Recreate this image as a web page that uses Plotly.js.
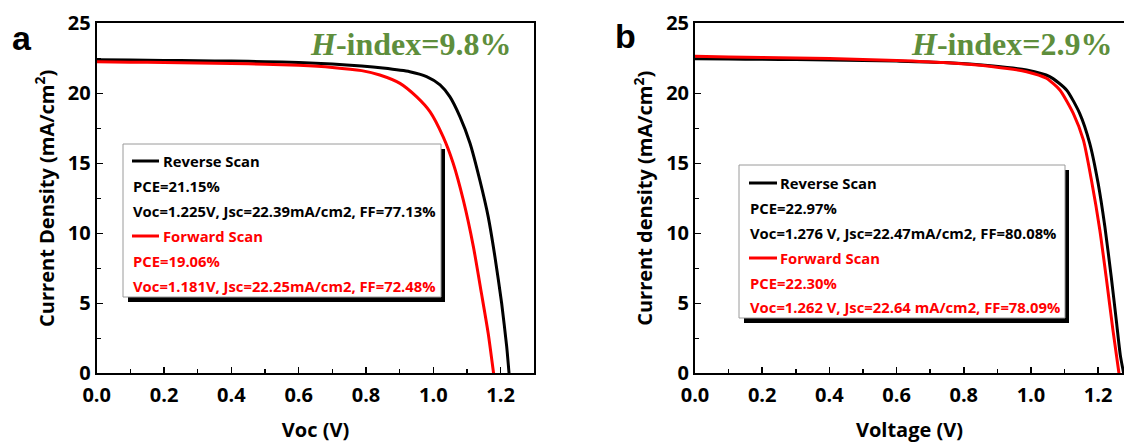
<!DOCTYPE html>
<html>
<head>
<meta charset="utf-8">
<script src="https://cdn.plot.ly/plotly-3.0.1.min.js"></script>
<style>
html,body{margin:0;padding:0;overflow:hidden;background:#fff;}
#chart{width:1124px;height:443px;}
</style>
</head>
<body>
<div id="chart"></div>
<script>
// ---------- data ----------
// Panel a
const aReverseV = [0, 0.1, 0.2, 0.3, 0.4, 0.5, 0.6, 0.7, 0.787, 0.85, 0.93, 0.98, 1.02, 1.049, 1.079, 1.109, 1.138, 1.163, 1.183, 1.203, 1.218, 1.225];
const aReverseJ = [22.39, 22.37, 22.35, 22.32, 22.3, 22.26, 22.2, 22.1, 21.95, 21.8, 21.54, 21.19, 20.6, 19.76, 18.33, 16.43, 13.81, 11.19, 8.33, 5.0, 1.9, 0];
const aForwardV = [0, 0.1, 0.2, 0.3, 0.4, 0.5, 0.6, 0.7, 0.787, 0.841, 0.901, 0.95, 0.99, 1.029, 1.059, 1.089, 1.119, 1.143, 1.163, 1.179];
const aForwardJ = [22.25, 22.22, 22.2, 22.17, 22.13, 22.08, 22.0, 21.85, 21.62, 21.31, 20.71, 19.76, 18.69, 16.9, 15.0, 12.38, 9.05, 5.71, 2.86, 0];
// Panel b
const bReverseV = [0, 0.1, 0.2, 0.3, 0.4, 0.5, 0.6, 0.74, 0.888, 0.987, 1.056, 1.106, 1.145, 1.175, 1.2, 1.22, 1.239, 1.254, 1.266, 1.276];
const bReverseJ = [22.47, 22.45, 22.43, 22.41, 22.38, 22.35, 22.3, 22.2, 21.95, 21.66, 21.19, 20.24, 18.57, 16.43, 13.57, 10.48, 6.9, 3.8, 1.3, 0];
const bForwardV = [0, 0.1, 0.2, 0.3, 0.4, 0.5, 0.6, 0.74, 0.888, 0.987, 1.046, 1.086, 1.126, 1.156, 1.18, 1.205, 1.225, 1.244, 1.262];
const bForwardJ = [22.64, 22.6, 22.56, 22.52, 22.48, 22.42, 22.35, 22.2, 21.9, 21.54, 21.07, 20.24, 18.57, 16.67, 13.81, 10.24, 6.67, 3.1, 0];

const seriesNames = ["Reverse Scan", "Forward Scan"];
const aInfo = [["PCE=21.15%", "Voc=1.225V, Jsc=22.39mA/cm2, FF=77.13%"],
               ["PCE=19.06%", "Voc=1.181V, Jsc=22.25mA/cm2, FF=72.48%"]];
const bInfo = [["PCE=22.97%", "Voc=1.276 V, Jsc=22.47mA/cm2, FF=80.08%"],
               ["PCE=22.30%", "Voc=1.262 V, Jsc=22.64 mA/cm2, FF=78.09%"]];
const hIndexA = "9.8%";
const hIndexB = "2.9%";
const xTitleA = "Voc (V)";
const xTitleB = "Voltage (V)";
const yTitleA = "Current Density (mA/cm<sup>2</sup>)";
const yTitleB = "Current density (mA/cm<sup>2</sup>)";

// ---------- layout helpers ----------
const W = 1124, H = 443;
const px = x => x / W;
const py = y => 1 - y / H;
const BLACK = "#000000", RED = "#ff0000", GREEN = "#5e8e3c";
const SANS = "Open Sans";

const traces = [
  {x: aReverseV, y: aReverseJ, xaxis: "x", yaxis: "y", mode: "lines", name: seriesNames[0],
   line: {color: BLACK, width: 3, shape: "spline", smoothing: 0.6}},
  {x: aForwardV, y: aForwardJ, xaxis: "x", yaxis: "y", mode: "lines", name: seriesNames[1],
   line: {color: RED, width: 3, shape: "spline", smoothing: 0.6}},
  {x: bReverseV, y: bReverseJ, xaxis: "x2", yaxis: "y2", mode: "lines", name: seriesNames[0],
   line: {color: BLACK, width: 3, shape: "spline", smoothing: 0.6}},
  {x: bForwardV, y: bForwardJ, xaxis: "x2", yaxis: "y2", mode: "lines", name: seriesNames[1],
   line: {color: RED, width: 3, shape: "spline", smoothing: 0.6}}
];

const tickFont = {family: SANS, size: 20, color: BLACK, weight: "bold"};
const titleFont = {family: SANS, size: 20, color: BLACK, weight: "bold"};

function xAxis(domain, range, title, anchor) {
  return {
    domain: domain, range: range, anchor: anchor,
    tickmode: "linear", tick0: 0, dtick: 0.2, tickformat: ".1f",
    ticks: "inside", ticklen: 6, tickwidth: 1.5, tickcolor: BLACK,
    ticklabelstandoff: 3,
    minor: {ticks: "inside", dtick: 0.1, ticklen: 4, tickwidth: 1.5, tickcolor: BLACK, showgrid: false},
    showline: true, linewidth: 2, linecolor: BLACK, mirror: true,
    showgrid: false, zeroline: false,
    tickfont: tickFont,
    title: {text: title, font: titleFont, standoff: 19}
  };
}
function yAxis(domain, title, anchor, mirror) {
  return {
    domain: domain, range: [0, 25], anchor: anchor,
    tickmode: "linear", tick0: 0, dtick: 5,
    ticks: "inside", ticklen: 6, tickwidth: 1.5, tickcolor: BLACK,
    minor: {ticks: "inside", dtick: 2.5, ticklen: 4, tickwidth: 1.5, tickcolor: BLACK, showgrid: false},
    showline: true, linewidth: 2, linecolor: BLACK, mirror: mirror,
    showgrid: false, zeroline: false,
    tickfont: tickFont,
    title: {text: title, font: {family: SANS, size: 20, color: BLACK, weight: "bold"}, standoff: 8}
  };
}

const yDom = [py(373.3), py(23.3)];

// legend boxes
function legendBox(x0, y0, x1, y1, info, sampleX0, sampleX1, textX, plainX, rows) {
  const shapes = [
    {type: "rect", xref: "paper", yref: "paper", x0: px(x0 + 5), x1: px(x1 + 4), y0: py(y1 + 5), y1: py(y0 + 5),
     fillcolor: BLACK, line: {width: 0}, layer: "above"},
    {type: "rect", xref: "paper", yref: "paper", x0: px(x0), x1: px(x1), y0: py(y1), y1: py(y0),
     fillcolor: "#ffffff", line: {color: "#9a9a9a", width: 1}, layer: "above"}
  ];
  const anns = [];
  const colors = [BLACK, RED];
  for (let s = 0; s < 2; s++) {
    const c = colors[s];
    const yName = rows[s * 3], yPce = rows[s * 3 + 1], yVoc = rows[s * 3 + 2];
    shapes.push({type: "line", xref: "paper", yref: "paper", x0: px(sampleX0), x1: px(sampleX1),
                 y0: py(yName), y1: py(yName), line: {color: c, width: 3}, layer: "above"});
    const f = {family: SANS, size: 14.8, color: c, weight: "bold"};
    anns.push({xref: "paper", yref: "paper", x: px(textX), y: py(yName), xanchor: "left", yanchor: "middle",
               text: seriesNames[s], showarrow: false, font: f});
    anns.push({xref: "paper", yref: "paper", x: px(plainX), y: py(yPce), xanchor: "left", yanchor: "middle",
               text: info[s][0], showarrow: false, font: f});
    anns.push({xref: "paper", yref: "paper", x: px(plainX), y: py(yVoc), xanchor: "left", yanchor: "middle",
               text: info[s][1], showarrow: false, font: f});
  }
  return {shapes, anns};
}

const boxA = legendBox(123, 144, 441, 297, aInfo, 132, 159, 161, 131, [161, 186, 211, 236, 261, 286]);
const boxB = legendBox(739, 165, 1065, 318, bInfo, 749, 777, 778, 748, [183, 208, 233, 258, 283, 307]);

const hFont = {family: "Liberation Serif", size: 32, color: GREEN, weight: "bold"};
const annotations = [
  {xref: "paper", yref: "paper", x: px(513), y: py(44), xanchor: "right", yanchor: "middle",
   text: "<i>H</i>-index=" + hIndexA, showarrow: false, font: hFont},
  {xref: "paper", yref: "paper", x: px(1114), y: py(44), xanchor: "right", yanchor: "middle",
   text: "<i>H</i>-index=" + hIndexB, showarrow: false, font: hFont},
  {xref: "paper", yref: "paper", x: px(22), y: py(38), xanchor: "center", yanchor: "middle",
   text: "a", showarrow: false, font: {family: "Liberation Sans", size: 34, color: BLACK, weight: "bold"}},
  {xref: "paper", yref: "paper", x: px(625), y: py(36), xanchor: "center", yanchor: "middle",
   text: "b", showarrow: false, font: {family: "Liberation Sans", size: 34, color: BLACK, weight: "bold"}}
].concat(boxA.anns, boxB.anns);

const layout = {
  width: W, height: H,
  margin: {l: 0, r: 0, t: 0, b: 0},
  paper_bgcolor: "#ffffff", plot_bgcolor: "#ffffff",
  showlegend: false,
  xaxis: xAxis([px(96.7), px(534.3)], [0, 1.3], xTitleA, "y"),
  yaxis: yAxis(yDom, yTitleA, "x", true),
  xaxis2: xAxis([px(695), 1], [0, 1.277], xTitleB, "y2"),
  yaxis2: yAxis(yDom, yTitleB, "x2", false),
  shapes: boxA.shapes.concat(boxB.shapes),
  annotations: annotations
};

Plotly.newPlot("chart", traces, layout, {staticPlot: true, displayModeBar: false});
</script>
</body>
</html>
